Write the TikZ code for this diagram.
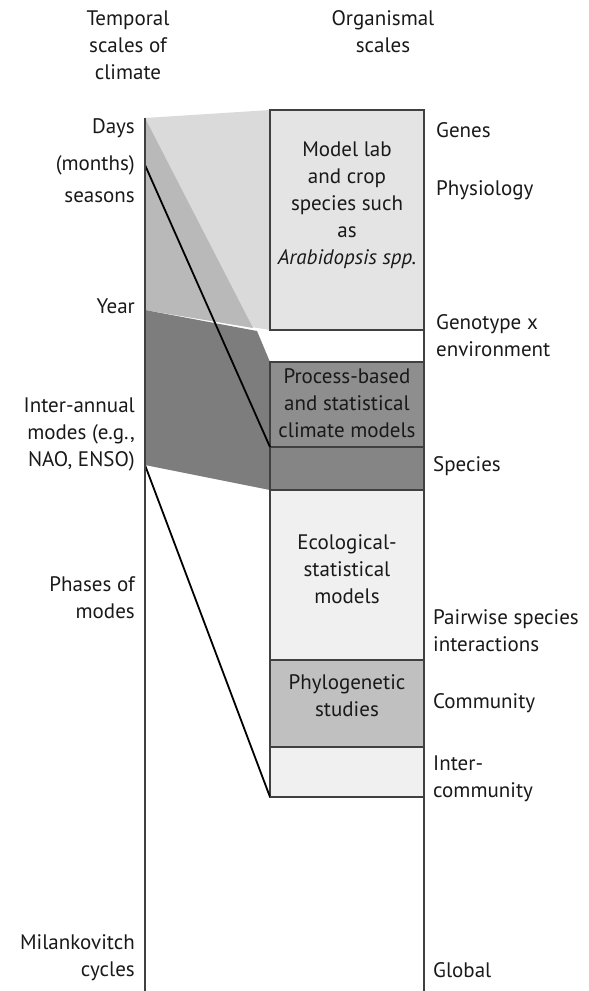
\documentclass[tikz,border=0pt]{standalone}
\usepackage{fontspec}
\setmainfont{PT Sans}
\usetikzlibrary{positioning}
\definecolor{boxline}{HTML}{404040}
\definecolor{lightfill}{HTML}{DADADA}
\definecolor{midfill}{HTML}{B9B9B9}
\definecolor{darkfill}{HTML}{7D7D7D}
\definecolor{modelfill}{HTML}{E4E4E4}
\definecolor{procfill}{HTML}{8E8E8E}
\definecolor{specfill}{HTML}{858585}
\definecolor{ecofill}{HTML}{F0F0F0}
\definecolor{phylofill}{HTML}{C0C0C0}
\begin{document}
\begin{tikzpicture}[x=1pt,y=-1pt,
    lbl/.style={font=\fontsize{21}{27}\selectfont, inner sep=0pt, text=black!90},
    leftlbl/.style={lbl, anchor=east, align=right},
    rightlbl/.style={lbl, anchor=west, align=left},
    box/.style={draw=boxline, line width=1.5pt, minimum width=154pt, outer sep=0pt, inner sep=0pt},
    boxtext/.style={lbl, align=center, anchor=north},
    axis/.style={draw=boxline, line width=1.8pt},
    link/.style={black, line width=1.8pt}]
  \useasboundingbox (0,0) rectangle (589,991);

  % time axis points
  \coordinate (tTop) at (145,118);
  \coordinate (tMonths) at (145,165);
  \coordinate (tYear) at (145,310);
  \coordinate (tEnso) at (145,465);
  \coordinate (tBot) at (145,991);

  % organismal boxes
  \node[box, fill=modelfill, line width=2.5pt, minimum height=220pt, anchor=north west] (model) at (270,110) {};
  \node[box, fill=procfill, minimum height=85pt, below=32pt of model] (proc) {};
  \node[box, fill=specfill, minimum height=43pt, below=0pt of proc] (spec) {};
  \node[box, fill=ecofill, minimum height=170pt, below=0pt of spec] (eco) {};
  \node[box, fill=phylofill, minimum height=87pt, below=0pt of eco] (phylo) {};
  \node[box, fill=ecofill, minimum height=50pt, below=0pt of phylo] (inter) {};
  \coordinate (oBot) at (model.north east |- tBot);

  % shaded bands
  \fill[lightfill] (tTop) -- (model.north west) -- (model.south west) -- (tYear) -- cycle;
  \fill[midfill] (tTop) -- (253,328) -- (tYear) -- cycle;
  \fill[darkfill] (tYear) -- (257,331) -- (proc.north west) -- (spec.south west) -- (tEnso) -- cycle;
  \draw[boxline, line width=2.5pt] (model.north west) rectangle (model.south east);
  \draw[boxline, line width=1.5pt] (proc.north west) rectangle (spec.south east);

  % box texts
  \node[boxtext, below=32pt of model.north] (modeltxt) {Model lab\\and crop\\species such\\as\\\itshape Arabidopsis spp.};
  \node[boxtext, below=6pt of proc.north] (proctxt) {Process-based\\and statistical\\climate models};
  \node[boxtext, below=44pt of eco.north] (ecotxt) {Ecological-\\statistical\\models};
  \node[boxtext, below=14pt of phylo.north] (phylotxt) {Phylogenetic\\studies};

  % links
  \draw[link] (tMonths) -- (proc.south west);
  \draw[link] (tEnso) -- (inter.south west);
  \draw[boxline, line width=2.5pt] (inter.south west) -- (inter.south east);

  % axes
  \draw[axis] (tTop) -- (tBot);
  \draw[axis] (model.north east) -- (oBot);

  % headings
  \node[lbl, align=center] (thead) at (128,45) {Temporal\\scales of\\climate};
  \node[lbl, align=center] (ohead) at (383,32) {Organismal\\scales};

  % temporal scales
  \node[leftlbl] (days) at (135,128) {Days};
  \node[leftlbl] (months) at (135,165) {(months)};
  \node[leftlbl] (seasons) at (135,197) {seasons};
  \node[leftlbl] (year) at (135,306) {Year};
  \node[leftlbl] (inter-annual) at (135,434) {Inter-annual\\modes (e.g.,\\NAO, ENSO)};
  \node[leftlbl] (phases) at (135,598) {Phases of\\modes};
  \node[leftlbl] (milank) at (135,958) {Milankovitch\\cycles};

  % organismal scales
  \node[rightlbl] (genes) at (436,130) {Genes};
  \node[rightlbl] (physio) at (436,190) {Physiology};
  \node[rightlbl] (gxe) at (436,336) {Genotype x\\environment};
  \node[rightlbl] (species) at (433,466) {Species};
  \node[rightlbl] (pairwise) at (433,631) {Pairwise species\\interactions};
  \node[rightlbl] (community) at (433,703) {Community};
  \node[rightlbl] (intercomm) at (433,779) {Inter-\\community};
  \node[rightlbl] (global) at (433,970) {Global};
\end{tikzpicture}
\end{document}
